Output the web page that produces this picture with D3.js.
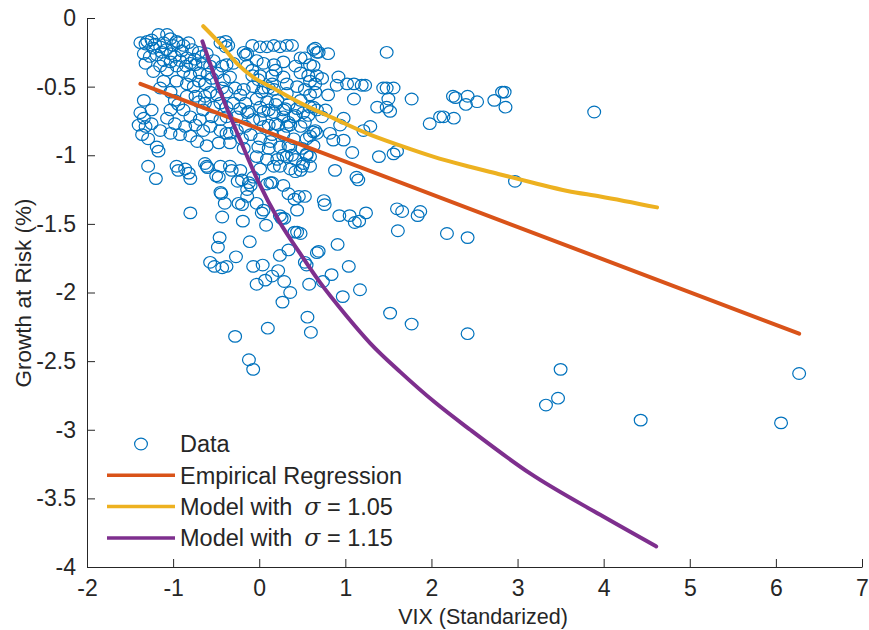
<!DOCTYPE html>
<html>
<head>
<meta charset="utf-8">
<script src="https://cdn.jsdelivr.net/npm/d3@7"></script>
<style>
  body { margin: 0; background: #fff; }
  text { font-family: "Liberation Sans", Arial, sans-serif; fill: #262626; }
</style>
</head>
<body>
<script>
"use strict";

let width = 869;
let height = 630;

// scatter: [VIX (standardized), growth at risk (%)]
let scatterPts = [
  [-1.38,-0.18],[-1.32,-0.19],[-1.25,-0.16],[-1.17,-0.12],[-1.07,-0.12],[-1.03,-0.15],[-1.11,-0.18],[-1.23,-0.22],[-0.94,-0.18],[-0.88,-0.20],[-0.82,-0.18],[-0.78,-0.23],[-0.70,-0.25],[-0.67,-0.28],[-0.61,-0.26],[-0.45,-0.18],[-0.39,-0.21],[-1.19,-0.27],[-1.13,-0.25],[-1.03,-0.26],[-0.98,-0.28],[-0.92,-0.31],[-0.84,-0.29],[-0.80,-0.33],[-0.74,-0.34],[-1.03,-0.32],[-1.11,-0.31],[-1.15,-0.35],[-1.07,-0.38],[-0.96,-0.35],[-0.88,-0.39],[-0.80,-0.42],[-0.69,-0.40],[-0.65,-0.33],[-0.57,-0.35],[-0.53,-0.31],[-0.49,-0.40],[-0.43,-0.35],[-0.38,-0.34],[-1.32,-0.33],[-1.27,-0.28],[-1.34,-0.26],[-1.23,-0.39],[-1.11,-0.46],[-0.96,-0.46],[-0.84,-0.48],[-0.76,-0.50],[-0.70,-0.46],[-0.63,-0.48],[-0.55,-0.44],[-0.41,-0.45],[-0.34,-0.43],[-1.15,-0.51],[-1.03,-0.54],[-0.98,-0.60],[-0.94,-0.63],[-0.84,-0.57],[-0.74,-0.57],[-0.70,-0.61],[-0.63,-0.57],[-0.57,-0.54],[-0.49,-0.56],[-0.43,-0.51],[-0.38,-0.54],[-0.28,-0.51],[-0.22,-0.56],[-0.18,-0.52],[-0.45,-0.62],[-0.53,-0.65],[-0.38,-0.65],[-0.30,-0.62],[-0.22,-0.66],[-0.16,-0.62],[-0.12,-0.68],[-0.26,-0.72],[-0.38,-0.72],[-0.45,-0.74],[-0.55,-0.72],[-0.65,-0.67],[-0.69,-0.74],[-0.80,-0.72],[-0.88,-0.67],[-1.03,-0.67],[-1.07,-0.73],[-0.98,-0.77],[-0.86,-0.79],[-0.74,-0.78],[-0.65,-0.82],[-0.57,-0.79],[-0.45,-0.82],[-0.38,-0.84],[-0.26,-0.82],[-0.16,-0.79],[-0.10,-0.85],[-0.20,-0.88],[-0.34,-0.91],[-0.47,-0.91],[-0.61,-0.93],[-0.72,-0.90],[-0.80,-0.86],[-0.92,-0.85],[-1.03,-0.84],[-1.15,-0.82],[-1.25,-0.77],[-1.34,-0.73],[-1.32,-0.79],[-1.36,-0.85],[-1.29,-0.88],[-1.19,-0.94],[-1.17,-0.97],[-1.29,-1.08],[-0.96,-1.08],[-0.86,-1.10],[-0.63,-1.06],[-0.45,-1.08],[-0.34,-1.08],[-0.22,-1.11],[-1.25,-0.67],[-1.38,-0.69],[-1.40,-0.78],[-1.34,-0.60],
  [-1.30,-0.17],[-1.21,-0.19],[-1.15,-0.21],[-1.00,-0.20],[-0.90,-0.24],[-0.96,-0.17],[-1.08,-0.23],[-0.85,-0.35],[-0.75,-0.30],[-0.60,-0.41],
  [-0.14,-0.26],[-0.08,-0.20],[0.01,-0.21],[0.09,-0.21],[0.17,-0.20],[0.24,-0.21],[0.32,-0.20],[0.38,-0.20],[0.48,-0.29],[0.63,-0.23],[0.67,-0.25],[0.59,-0.34],[0.42,-0.35],[0.28,-0.32],[0.17,-0.34],[0.05,-0.33],[-0.03,-0.31],[-0.14,-0.35],[-0.08,-0.42],[0.01,-0.42],[0.15,-0.42],[0.28,-0.43],[0.48,-0.40],[0.59,-0.46],[0.44,-0.50],[0.32,-0.55],[0.17,-0.52],[0.05,-0.51],[-0.07,-0.50],[-0.03,-0.59],[0.09,-0.61],[0.21,-0.60],[0.34,-0.63],[0.48,-0.60],[0.59,-0.56],[0.63,-0.65],[0.51,-0.69],[0.40,-0.72],[0.28,-0.72],[0.17,-0.69],[0.05,-0.68],[-0.07,-0.74],[0.05,-0.79],[0.19,-0.77],[0.32,-0.79],[0.48,-0.79],[0.63,-0.83],[0.55,-0.88],[0.40,-0.88],[0.28,-0.85],[0.15,-0.85],[0.01,-0.88],[-0.01,-0.94],[0.11,-0.95],[0.24,-0.94],[0.36,-0.94],[0.50,-0.95],[0.63,-0.93],[0.32,-1.01],[0.21,-1.03],[0.09,-1.03],[-0.03,-1.01],[0.42,-1.03],[0.59,-1.01],[0.50,-1.08],[0.17,-1.08],[0.01,-1.10],
  [0.69,-0.25],[0.80,-0.26],[0.53,-0.29],[0.63,-0.35],[0.57,-0.42],[0.67,-0.42],[0.65,-0.48],[0.73,-0.44],[0.92,-0.43],[0.90,-0.49],[1.02,-0.48],[1.10,-0.48],[1.19,-0.49],[1.23,-0.49],[1.10,-0.59],[0.80,-0.56],[0.65,-0.54],[0.53,-0.52],[0.32,-0.48],[0.11,-0.51],[0.03,-0.54],[1.48,-0.25],[1.48,-0.51],[1.37,-0.65],[1.48,-0.65],[1.52,-0.68],[1.50,-0.59],[1.44,-0.51],[1.56,-0.51],[1.29,-0.79],[1.21,-0.82],[0.98,-0.73],[0.94,-0.78],[0.65,-0.82],[0.53,-0.76],[0.57,-0.71],[0.42,-0.71],[0.30,-0.66],[0.34,-0.76],[0.22,-0.78],[0.11,-0.78],[0.11,-0.67],[0.77,-0.67],[0.19,-0.63],[1.08,-0.98],[0.88,-1.11],[1.13,-1.16],[1.39,-1.01],[1.60,-0.97],[1.56,-0.99],[0.98,-0.89],[0.86,-0.89],[0.82,-0.84],[0.59,-0.86],[0.67,-0.84],[0.34,-0.93],[0.28,-1.00],[0.24,-1.08],[0.48,-1.11],[0.55,-0.99],[0.59,-1.08],[-0.61,-1.08],[-0.47,-1.16],[-0.32,-1.11],[-0.45,-1.27],[-0.12,-1.20],[-0.07,-1.16],[-0.20,-1.18],[0.13,-1.20],[0.34,-1.28],[0.46,-1.30],[0.53,-1.30],[0.75,-1.33],[-0.18,-0.25],[-0.08,-0.38],[-0.16,-0.27],[-0.36,-0.20],[-0.39,-0.17],[-0.30,-0.33],[0.65,-0.22],[0.19,-0.38],[0.15,-0.48],[-0.01,-0.45],[0.28,-0.67],[0.44,-0.66],[0.59,-0.65],[0.67,-0.67],[0.73,-0.72],[0.01,-0.74],[0.13,-0.90],[0.36,-0.78],[0.01,-0.65],[-0.14,-0.69],[-0.63,-0.62],[-0.34,-0.84],[-0.18,-0.95],
  [-1.20,-1.17],[-0.94,-1.11],[-0.82,-1.13],[-0.80,-1.17],[-0.60,-1.09],[-0.50,-1.15],[-0.25,-1.19],[-0.10,-1.22],[-0.14,-1.25],[-0.40,-1.35],[-0.20,-1.36],[-0.24,-1.35],[-0.03,-1.35],[-0.19,-1.48],[-0.43,-1.45],[-0.80,-1.42],[0.08,-1.51],[0.15,-1.20],[0.28,-1.22],[0.41,-1.32],[0.44,-1.40],[0.24,-1.44],[0.29,-1.46],[0.05,-1.40],[-0.46,-1.60],[-0.48,-1.67],[-0.11,-1.63],[-0.27,-1.74],[-0.57,-1.78],[-0.52,-1.81],[-0.43,-1.82],[-0.38,-1.81],[-0.07,-1.81],[0.04,-1.80],[0.24,-1.73],[0.34,-1.69],[0.48,-1.57],[0.44,-1.56],[0.53,-1.78],[0.55,-1.80],[0.67,-1.71],[0.22,-1.84],[0.15,-1.88],[0.07,-1.91],[0.29,-1.92],[-0.03,-1.94],[0.36,-2.00],[0.58,-1.94],[0.38,-1.00],[0.51,-1.06],[0.36,-1.10],[0.42,-1.12],[0.55,-1.00],
  [-0.44,-1.28],[0.27,-2.07],[0.69,-1.70],[0.74,-1.92],[0.84,-1.87],[1.04,-1.81],[0.91,-1.65],[0.97,-2.03],[1.17,-1.98],[0.76,-1.36],[0.93,-1.44],[1.05,-1.44],[1.11,-1.49],[1.16,-1.48],[1.24,-1.42],[1.60,-1.39],[1.66,-1.41],[1.61,-1.55],[1.84,-1.44],[1.52,-2.15],[1.77,-2.23],[0.56,-2.18],[0.60,-2.29],[0.10,-2.26],[-0.28,-2.32],[-0.12,-2.49],[-0.07,-2.56],[-0.14,-1.30],[0.09,-1.21],[0.03,-1.42],[0.26,-1.46],[0.41,-1.56],[1.15,-1.18],
  [1.77,-0.59],[2.25,-0.57],[2.28,-0.58],[2.42,-0.57],[2.40,-0.63],[2.53,-0.61],[2.10,-0.72],[2.14,-0.72],[2.26,-0.73],[1.98,-0.77],[2.73,-0.60],[2.82,-0.54],[2.85,-0.54],[2.86,-0.65],[3.89,-0.685],[2.97,-1.19],[1.87,-1.41],[2.18,-1.57],[2.42,-1.60],[2.42,-2.30],[3.50,-2.56],[3.47,-2.77],[3.33,-2.82],[4.43,-2.93],[6.27,-2.59],[6.06,-2.95]
];

// empirical regression line (end points)
let regX = [-1.38, 6.27];
let regY = [-0.48, -2.30];

// model with sigma = 1.05
let m105X = [-0.65, -0.45, -0.26, -0.07, 0.13, 0.48, 0.86, 1.25, 1.64, 2.02, 2.42, 2.80, 3.18, 3.58, 3.96, 4.62];
let m105Y = [-0.06, -0.19, -0.33, -0.43, -0.50, -0.62, -0.73, -0.84, -0.93, -1.01, -1.08, -1.14, -1.20, -1.26, -1.30, -1.38];

// model with sigma = 1.15
let m115X = [-0.66, -0.45, -0.22, -0.02, 0.24, 0.48, 0.71, 1.00, 1.29, 1.64, 2.04, 2.45, 3.15, 3.96, 4.61];
let m115Y = [-0.17, -0.54, -0.89, -1.18, -1.49, -1.72, -1.93, -2.16, -2.37, -2.58, -2.80, -3.00, -3.32, -3.62, -3.85];

let xTicks = [-2, -1, 0, 1, 2, 3, 4, 5, 6, 7];
let yTicks = [0, -0.5, -1, -1.5, -2, -2.5, -3, -3.5, -4];

let legendLabels = ["Data", "Empirical Regression", "Model with", "Model with"];
let legendSigma = [null, null, "1.05", "1.15"];
let legendColors = ["#0072BD", "#D95319", "#EDB120", "#7E2F8E"];

let svg = d3.select("body").append("svg").attr("width", width).attr("height", height);

let x = d3.scaleLinear().domain([-2, 7]).range([87, 862]);
let y = d3.scaleLinear().domain([-4, 0]).range([567, 18]);

// axes (ticks point inward, no box)
let xAxis = svg.append("g")
  .attr("transform", "translate(0," + y(-4) + ")")
  .call(d3.axisBottom(x).tickValues(xTicks).tickFormat(d => String(d))
    .tickSizeInner(-8).tickSizeOuter(0).tickPadding(13));
let yAxis = svg.append("g")
  .attr("transform", "translate(" + x(-2) + ",0)")
  .call(d3.axisLeft(y).tickValues(yTicks).tickFormat(d => String(d))
    .tickSizeInner(-8).tickSizeOuter(0).tickPadding(11));

[xAxis, yAxis].forEach(function (a) {
  a.select(".domain").attr("stroke", "#262626");
  a.selectAll(".tick line").attr("stroke", "#262626");
  a.selectAll(".tick text").style("font-size", "23px").attr("fill", "#262626");
});

svg.append("text")
  .attr("x", 483)
  .attr("y", 624)
  .attr("text-anchor", "middle")
  .style("font-size", "21.5px")
  .text("VIX (Standarized)");

svg.append("text")
  .attr("transform", "translate(31,293) rotate(-90)")
  .attr("text-anchor", "middle")
  .style("font-size", "22.5px")
  .text("Growth at Risk (%)");

// data
svg.append("g").selectAll("ellipse")
  .data(scatterPts)
  .enter()
  .append("ellipse")
  .attr("cx", d => x(d[0]))
  .attr("cy", d => y(d[1]))
  .attr("rx", 6.4)
  .attr("ry", 5.8)
  .attr("fill", "none")
  .attr("stroke", "#0072BD")
  .attr("stroke-width", 1.2);

let line = d3.line().x(d => x(d[0])).y(d => y(d[1])).curve(d3.curveMonotoneX);

let curves = [
  [d3.zip(regX, regY), "#D95319"],
  [d3.zip(m105X, m105Y), "#EDB120"],
  [d3.zip(m115X, m115Y), "#7E2F8E"]
];
curves.forEach(function (c) {
  svg.append("path")
    .attr("d", line(c[0]))
    .attr("fill", "none")
    .attr("stroke", c[1])
    .attr("stroke-width", 4)
    .attr("stroke-linejoin", "round")
    .attr("stroke-linecap", "round");
});

// legend
let legend = svg.append("g");
legendLabels.forEach(function (lab, i) {
  let ly = 444 + i * 31.3;
  if (i === 0) {
    legend.append("ellipse")
      .attr("cx", 141).attr("cy", ly)
      .attr("rx", 6.4).attr("ry", 5.8)
      .attr("fill", "none").attr("stroke", legendColors[i]).attr("stroke-width", 1.2);
  } else {
    legend.append("line")
      .attr("x1", 107).attr("x2", 175).attr("y1", ly).attr("y2", ly)
      .attr("stroke", legendColors[i]).attr("stroke-width", 3.5);
  }
  let t = legend.append("text")
    .attr("x", 180).attr("y", ly)
    .attr("dy", "0.36em")
    .style("font-size", "23.5px")
    .text(lab);
  if (legendSigma[i]) {
    t.append("tspan").attr("dx", 12)
      .style("font-style", "italic").style("font-family", "'DejaVu Serif', serif").text("σ");
    t.append("tspan").text(" = " + legendSigma[i]);
  }
});
</script>
</body>
</html>
